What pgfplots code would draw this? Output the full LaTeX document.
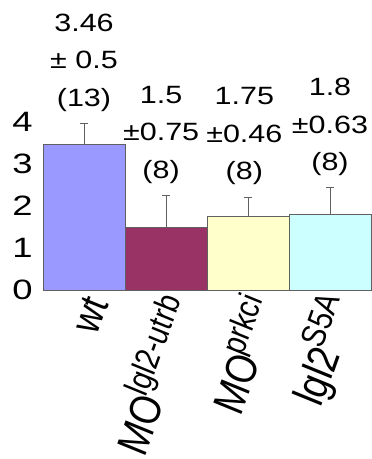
\documentclass[border=0pt]{standalone}
\usepackage{fontspec}
\setmainfont{Liberation Sans}
\usepackage{pgfplots}
\pgfplotsset{compat=1.18}
\definecolor{cwt}{HTML}{9999FF}
\definecolor{cmo}{HTML}{993366}
\definecolor{cpk}{HTML}{FFFFCC}
\definecolor{cs5}{HTML}{CCFFFF}
\definecolor{edge}{HTML}{606060}
\newcommand{\supr}[1]{\raisebox{0.42em}{\fontsize{28}{28}\selectfont #1}}
\begin{document}
\begin{tikzpicture}
\begin{axis}[
  scale only axis,
  width=328pt, height=168pt,
  xmin=-0.5, xmax=3.5, ymin=0, ymax=4,
  clip=false,
  ytick={0,1,2,3,4},
  xtick={0,1,2,3},
  major tick length=0pt,
  /pgf/number format/assume math mode=true,
  yticklabel style={font=\fontsize{28}{28}\selectfont, anchor=east, inner sep=0pt, xshift=-10pt, xscale=1.3},
  xticklabels={{\fontsize{34}{34}\selectfont\textit{wt}}, \textit{MO\supr{lgl2-utrb}}, \textit{MO\supr{prkci}}, \textit{lgl2\supr{S5A}}},
  xticklabel style={font=\fontsize{36}{36}\selectfont, anchor=east, inner sep=0pt, xshift=13pt, yshift=-8pt, xscale=1.25, rotate=74},
  axis line style={draw=none},
  error bars/error bar style={draw=edge, line width=0.9pt},
  error bars/error mark options={rotate=90, mark size=4pt, line width=0.9pt, draw=edge},
]
\addplot[ybar, bar width=82pt, bar shift=0pt, fill=cwt, draw=edge, line width=0.6pt,
  error bars/.cd, y dir=plus, y explicit] coordinates {(0,3.46) +- (0,0.5)};
\addplot[ybar, bar width=82pt, bar shift=0pt, fill=cmo, draw=edge, line width=0.6pt,
  error bars/.cd, y dir=plus, y explicit] coordinates {(1,1.5) +- (0,0.75)};
\addplot[ybar, bar width=82pt, bar shift=0pt, fill=cpk, draw=edge, line width=0.6pt,
  error bars/.cd, y dir=plus, y explicit] coordinates {(2,1.75) +- (0,0.46)};
\addplot[ybar, bar width=82pt, bar shift=0pt, fill=cs5, draw=edge, line width=0.6pt,
  error bars/.cd, y dir=plus, y explicit] coordinates {(3,1.8) +- (0,0.63)};
\begin{scope}[every node/.style={align=center, inner sep=0pt, anchor=south, xscale=1.22, font=\fontsize{25}{37.5}\selectfont}]
\node[yshift=12pt] at (axis cs:0,3.96) {3.46\\± 0.5\\(13)};
\node[yshift=12pt, xshift=-4pt] at (axis cs:1,2.25) {1.5\\±0.75\\(8)};
\node[yshift=12pt, xshift=-3pt] at (axis cs:2,2.21) {1.75\\±0.46\\(8)};
\node[yshift=12pt] at (axis cs:3,2.43) {1.8\\±0.63\\(8)};
\end{scope}
\end{axis}
\pgfresetboundingbox
\path[use as bounding box] ([xshift=-43pt,yshift=-169pt]current axis.south west) rectangle ([yshift=122pt]current axis.north east);
\end{tikzpicture}
\end{document}
